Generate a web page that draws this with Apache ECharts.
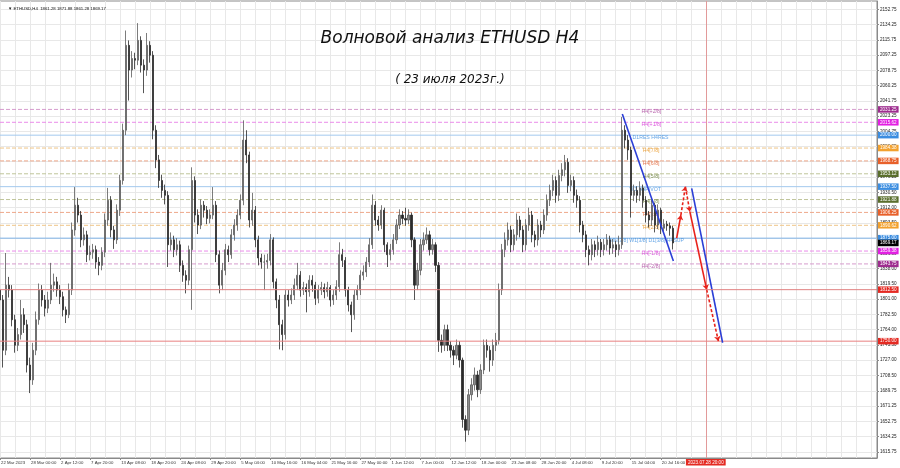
<!DOCTYPE html>
<html><head><meta charset="utf-8">
<script src="https://cdn.jsdelivr.net/npm/echarts@6/dist/echarts.min.js"></script>
<style>html,body{margin:0;padding:0;background:#fff}#c{width:900px;height:468px}</style>
</head><body><div id="c"></div>
<script>
// ---------------- DATA ----------------
const headerText = '▼ ETHUSD,H4  1861.28 1871.88 1861.28 1869.17';
const titleText = 'Волновой анализ ETHUSD H4';
const subtitleText = '( 23 июля 2023г.)';
const timeLabels = ['22 Mar 2023','28 Mar 00:00','2 Apr 12:00','7 Apr 20:00','13 Apr 08:00','18 Apr 20:00','24 Apr 08:00','29 Apr 20:00','5 May 04:00','10 May 16:00','16 May 04:00','21 May 16:00','27 May 00:00','1 Jun 12:00','7 Jun 00:00','12 Jun 12:00','18 Jun 00:00','23 Jun 08:00','28 Jun 20:00','4 Jul 08:00','9 Jul 20:00','15 Jul 04:00','20 Jul 16:00'];
const firstOpen = 1812;
const closes = [1800,1739,1818,1812,1776,1745,1758,1782,1770,1721,
1703,1739,1776,1812,1800,1790,1800,1818,1822,1812,
1804,1788,1782,1812,1885,1915,1903,1873,1879,1855,
1858,1861,1846,1842,1858,1897,1921,1885,1873,1909,
1945,2006,2109,2079,2093,2091,2115,2085,2079,2109,
2097,2006,1970,1945,1933,1927,1867,1873,1861,1867,
1842,1830,1824,1861,1945,1903,1891,1915,1909,1899,
1903,1915,1855,1818,1836,1861,1855,1879,1891,1903,
1921,1994,1976,1897,1909,1873,1851,1846,1846,1848,
1873,1822,1800,1770,1758,1806,1800,1806,1818,1830,
1812,1815,1810,1824,1818,1802,1812,1815,1810,1815,
1800,1806,1816,1855,1848,1812,1794,1782,1806,1812,
1830,1834,1846,1867,1915,1897,1891,1909,1867,1855,
1861,1873,1891,1903,1899,1897,1903,1873,1818,1836,
1867,1873,1879,1861,1867,1842,1751,1745,1764,1745,
1739,1733,1745,1727,1655,1642,1685,1697,1709,1691,
1715,1745,1739,1727,1745,1751,1812,1861,1873,1885,
1867,1879,1897,1885,1867,1891,1903,1879,1873,1891,
1885,1903,1921,1933,1945,1927,1951,1958,1967,1939,
1945,1927,1921,1891,1879,1861,1855,1867,1861,1870,
1861,1867,1873,1863,1867,1861,1867,2006,1994,1982,
1927,1933,1927,1936,1921,1903,1897,1915,1891,1909,
1887,1892,1890,1887,1869.17];
const highs = [1822,1806,1857,1828,1818,1782,1766,1800,1790,1776,
1730,1748,1786,1820,1818,1806,1810,1845,1832,1828,
1818,1810,1792,1820,1894,1937,1924,1908,1888,1884,
1866,1868,1866,1852,1864,1905,1936,1926,1890,1916,
1952,2014,2127,2115,2102,2100,2136,2120,2092,2124,
2114,2102,2012,1976,1952,1940,1932,1882,1878,1875,
1872,1848,1836,1866,1961,1950,1910,1922,1920,1914,
1910,1937,1920,1860,1845,1868,1866,1886,1898,1910,
1928,2018,2006,1980,1930,1914,1878,1856,1855,1856,
1880,1876,1826,1806,1776,1812,1812,1814,1826,1845,
1835,1822,1820,1830,1830,1822,1818,1822,1820,1822,
1818,1812,1824,1870,1862,1852,1816,1798,1812,1818,
1836,1842,1852,1875,1928,1920,1902,1915,1912,1870,
1868,1880,1898,1910,1908,1912,1910,1906,1876,1845,
1874,1882,1888,1884,1874,1870,1846,1758,1770,1770,
1750,1744,1752,1750,1730,1660,1692,1705,1718,1714,
1722,1752,1752,1744,1752,1760,1820,1868,1882,1894,
1890,1886,1905,1902,1890,1898,1912,1908,1884,1898,
1896,1910,1928,1940,1952,1950,1958,1966,1976,1972,
1952,1950,1934,1926,1896,1884,1866,1874,1872,1878,
1874,1874,1880,1878,1874,1872,1878,2022,2012,2000,
1986,1940,1938,1944,1940,1926,1908,1922,1918,1916,
1912,1898,1896,1894,1890];
const lows = [1784,1718,1733,1803,1768,1736,1738,1752,1760,1712,
1687,1697,1733,1770,1792,1780,1784,1795,1810,1804,
1795,1780,1772,1778,1806,1878,1894,1864,1866,1846,
1848,1850,1838,1830,1836,1852,1890,1876,1862,1868,
1902,1940,2000,2042,2070,2080,2085,2076,2051,2072,
2088,1995,1960,1936,1924,1916,1840,1860,1852,1854,
1834,1822,1808,1818,1788,1894,1880,1886,1900,1892,
1893,1898,1846,1808,1812,1830,1846,1850,1872,1884,
1898,1915,1966,1888,1890,1864,1842,1838,1812,1838,
1842,1814,1790,1740,1739,1752,1792,1795,1800,1812,
1804,1806,1785,1804,1810,1794,1796,1806,1802,1804,
1792,1794,1800,1810,1840,1804,1786,1761,1776,1800,
1806,1824,1828,1840,1862,1890,1884,1886,1858,1840,
1848,1855,1868,1886,1892,1890,1892,1864,1800,1812,
1830,1860,1868,1854,1855,1834,1737,1736,1738,1738,
1730,1721,1728,1718,1645,1628,1636,1678,1690,1682,
1686,1710,1730,1713,1720,1738,1746,1806,1852,1866,
1858,1860,1872,1876,1858,1860,1884,1870,1864,1866,
1876,1880,1896,1914,1926,1918,1920,1944,1950,1930,
1932,1918,1912,1882,1870,1852,1842,1848,1852,1854,
1852,1854,1860,1855,1856,1852,1854,1862,1984,1970,
1900,1920,1918,1920,1912,1894,1888,1890,1882,1886,
1880,1882,1884,1878,1861.28];
const yTicks = [1615.75,1634.25,1652.75,1671.25,1689.75,1708.50,1727.00,1745.50,1764.00,1782.50,1801.00,1819.50,1838.00,1856.50,1875.00,1893.50,1912.00,1930.50,1949.25,1967.75,1986.25,2004.75,2023.25,2041.75,2060.25,2078.75,2097.25,2115.75,2134.25,2152.75];
const levelValues = [2031.25,2015.62,2000.00,1984.38,1968.75,1953.12,1937.50,1921.88,1906.25,1890.62,1875.00,1859.38,1843.75,1812.50,1750.00];
const levelNames = ['H4[+2/8]','H4[+1/8]','D1RES H4RES','H4[7/8]','H4[6/8]','H4[5/8]','W1 H4PIVOT','H4[4/8]','H4[3/8]','H4[2/8]','MN[3/8] W1[3/8] D1[3/8] H4SUP','H4[-1/8]','H4[-2/8]','',''];
const lastPrice = 1869.17;
const blueLine1 = [[207.2,2025.7],[224.2,1847.3]];
const blueLine2 = [[230.3,1935.5],[240.6,1748.1]];
const wavePoints = [[225.3,1875],[226.7,1903],[228.2,1937.5],[229.7,1907],[235.3,1812.5],[239.2,1750]];
const waveDashed = [false,true,true,false,true];
const markerDateIndex = 235;
const markerDateLabel = '2023.07.28 20:00';

// ---------------- STYLE / LAYOUT ----------------
const SLOTS = 293;
const FONT = 'Liberation Sans, Arial, sans-serif';
const pal = {
  purple:  {line:'#d69ccd', box:'#9e2d8f', text:'#a8409a', dash:true,  z:1},
  magenta: {line:'#ea8cea', box:'#e21fe2', text:'#d530d5', dash:true,  z:1},
  blue:    {line:'#a3c9ee', box:'#3b8de0', text:'#3d8fe0', dash:false, z:1},
  blueS:   {line:'#7fb4e8', box:'#3b8de0', text:'#3d8fe0', dash:false, z:1},
  orange:  {line:'#efc587', box:'#f2a12e', text:'#e8921a', dash:true,  z:1},
  orRed:   {line:'#eea88a', box:'#e8602a', text:'#e05a28', dash:true,  z:1},
  olive:   {line:'#bfc59a', box:'#5a6e2c', text:'#5f7428', dash:true,  z:1},
  red1:    {line:'#e08282', box:'#e42a22', text:'#e42a22', dash:false, z:10},
  red2:    {line:'#e88080', box:'#e42a22', text:'#e42a22', dash:false, z:4}
};
const levelStyle = [pal.purple,pal.magenta,pal.blue,pal.orange,pal.orRed,pal.olive,pal.blue,pal.olive,pal.orRed,pal.orange,pal.blueS,pal.magenta,pal.purple,pal.red1,pal.red2];
const levelTextAnchor = [213.6,213.6,210.6,214.0,214.0,214.0,209.6,214.0,214.0,214.0,203.0,213.6,213.6,0,0];

// ---------------- BUILD ----------------
const cats = [];
for (let i = 0; i < SLOTS; i++) cats.push(String(i));
const candles = closes.map((c, i) => [i === 0 ? firstOpen : closes[i - 1], c, lows[i], highs[i]]);
const isLabelIdx = (i) => i % 10 === 0 && i / 10 < timeLabels.length;

const boxLabel = (bg) => ({
  show: true, position: 'end', distance: 1,
  formatter: (p) => Number(p.value).toFixed(2),
  backgroundColor: bg, color: '#fff', fontSize: 4.6, fontFamily: FONT,
  padding: [1, 2, 0.5, 2]
});

const levelSeries = levelValues.map((v, i) => ({
  type: 'line', xAxisIndex: 1, data: [[0, v], [SLOTS - 1, v]], symbol: 'none', silent: true, z: levelStyle[i].z,
  lineStyle: {color: levelStyle[i].line, width: 1, type: levelStyle[i].dash ? [4, 2] : 'solid'}
}));
const clearLine = {color: 'rgba(255,255,255,0)', width: 1, type: 'solid'};
const levelBoxes = levelValues.map((v, i) => ({yAxis: v, lineStyle: clearLine, label: boxLabel(levelStyle[i].box)}));
levelBoxes.push({yAxis: lastPrice, lineStyle: clearLine, label: boxLabel('#000000')});

const levelTexts = [];
levelValues.forEach((v, i) => {
  if (!levelNames[i]) return;
  levelTexts.push({
    name: levelNames[i], value: [levelTextAnchor[i], v],
    label: {color: levelStyle[i].text}
  });
});

const waveSegs = [];
for (let k = 0; k < wavePoints.length - 1; k++) {
  const ls = {color: '#e8231b', width: 1.6, type: waveDashed[k] ? [3, 2] : 'solid'};
  waveSegs.push([{coord: wavePoints[k], lineStyle: ls}, {coord: wavePoints[k + 1], lineStyle: ls}]);
}

const chart = echarts.init(document.getElementById('c'), null, {renderer: 'canvas'});
chart.setOption({
  animation: false,
  backgroundColor: '#ffffff',
  title: [
    {text: headerText, left: 3, top: 2, textStyle: {fontSize: 4.3, fontWeight: 'normal', color: '#111', fontFamily: FONT}},
    {text: titleText, left: 'center', top: 25, textStyle: {fontSize: 17, fontWeight: 'normal', fontStyle: 'italic', color: '#111', fontFamily: 'DejaVu Sans'}},
    {text: subtitleText, left: 'center', top: 69, textStyle: {fontSize: 12, fontWeight: 'normal', fontStyle: 'italic', color: '#111', fontFamily: 'DejaVu Sans'}}
  ],
  grid: {left: 0, right: 23, top: 1, bottom: 10, containLabel: false, outerBoundsMode: 'none',
         show: true, borderColor: '#8a8a8a', borderWidth: 1, backgroundColor: '#fff'},
  xAxis: [
    {type: 'category', data: cats, boundaryGap: false,
     axisLine: {show: true, onZero: false, lineStyle: {color: '#8a8a8a', width: 1}},
     axisTick: {show: true, interval: (i) => isLabelIdx(i), length: 2, lineStyle: {color: '#8a8a8a'}},
     axisLabel: {show: true, interval: (i) => isLabelIdx(i), formatter: (v, i) => timeLabels[i / 10] || '',
                 align: 'left', fontSize: 4.3, color: '#333', margin: 3, fontFamily: FONT, padding: [0, 0, 0, 1]},
     splitLine: {show: true, interval: (i) => i % 5 === 0, lineStyle: {color: '#e8e8e8', width: 1}}},
    {type: 'value', min: 0, max: SLOTS - 1, show: false}
  ],
  yAxis: {
    type: 'value', position: 'right', min: 1608.22, max: 2162.82, scale: true,
    axisLine: {show: true, onZero: false, lineStyle: {color: '#8a8a8a', width: 1}},
    axisTick: {show: true, customValues: yTicks, length: 2, lineStyle: {color: '#8a8a8a'}},
    axisLabel: {show: true, customValues: yTicks, formatter: (v) => Number(v).toFixed(2),
                fontSize: 4.6, color: '#222', margin: 3, fontFamily: FONT},
    splitLine: {show: true, lineStyle: {color: '#e8e8e8', width: 1}}
  },
  series: levelSeries.concat([
    {type: 'line', xAxisIndex: 1, data: [[0, levelValues[0]]], symbol: 'none', silent: true,
     lineStyle: {opacity: 0}, z: 6,
     markLine: {silent: true, symbol: ['none', 'none'], z: 6, animation: false, data: levelBoxes}},
    {type: 'line', xAxisIndex: 1, data: [[markerDateIndex, levelValues[0]]], symbol: 'none', silent: true,
     lineStyle: {opacity: 0}, z: 1,
     markLine: {silent: true, symbol: ['none', 'none'], z: 1, animation: false,
       data: [{xAxis: markerDateIndex,
               lineStyle: {color: '#e29a9a', width: 1, type: 'solid'},
               label: {show: true, position: 'start', distance: 1, formatter: markerDateLabel,
                       backgroundColor: '#e42a22', color: '#fff', fontSize: 4.6, fontFamily: FONT, padding: [1, 2, 0.5, 2]}}]}},
    {type: 'scatter', xAxisIndex: 1, data: levelTexts, symbolSize: 0, silent: true, z: 1,
     label: {show: true, position: 'right', distance: 0, offset: [0, 2.5], formatter: (p) => p.name,
             fontSize: 5.2, fontFamily: FONT}},
    {type: 'candlestick', xAxisIndex: 0, data: candles, barWidth: 1.6, z: 3,
     itemStyle: {color: '#8c8c8c', color0: '#2a2a2a', borderColor: '#5a5a5a', borderColor0: '#2a2a2a', borderWidth: 0.8}},
    {type: 'line', xAxisIndex: 1, data: blueLine1, symbol: 'none', z: 5,
     lineStyle: {color: '#2b3fd6', width: 1.6}},
    {type: 'line', xAxisIndex: 1, data: blueLine2, symbol: 'none', z: 5,
     lineStyle: {color: '#2b3fd6', width: 1.6}},
    {type: 'line', xAxisIndex: 1, data: [wavePoints[0]], symbol: 'none', z: 5, lineStyle: {opacity: 0},
     markLine: {silent: true, symbol: ['none', 'arrow'], symbolSize: 5, z: 6, animation: false,
                label: {show: false}, data: waveSegs}}
  ])
});
</script>
</body></html>
